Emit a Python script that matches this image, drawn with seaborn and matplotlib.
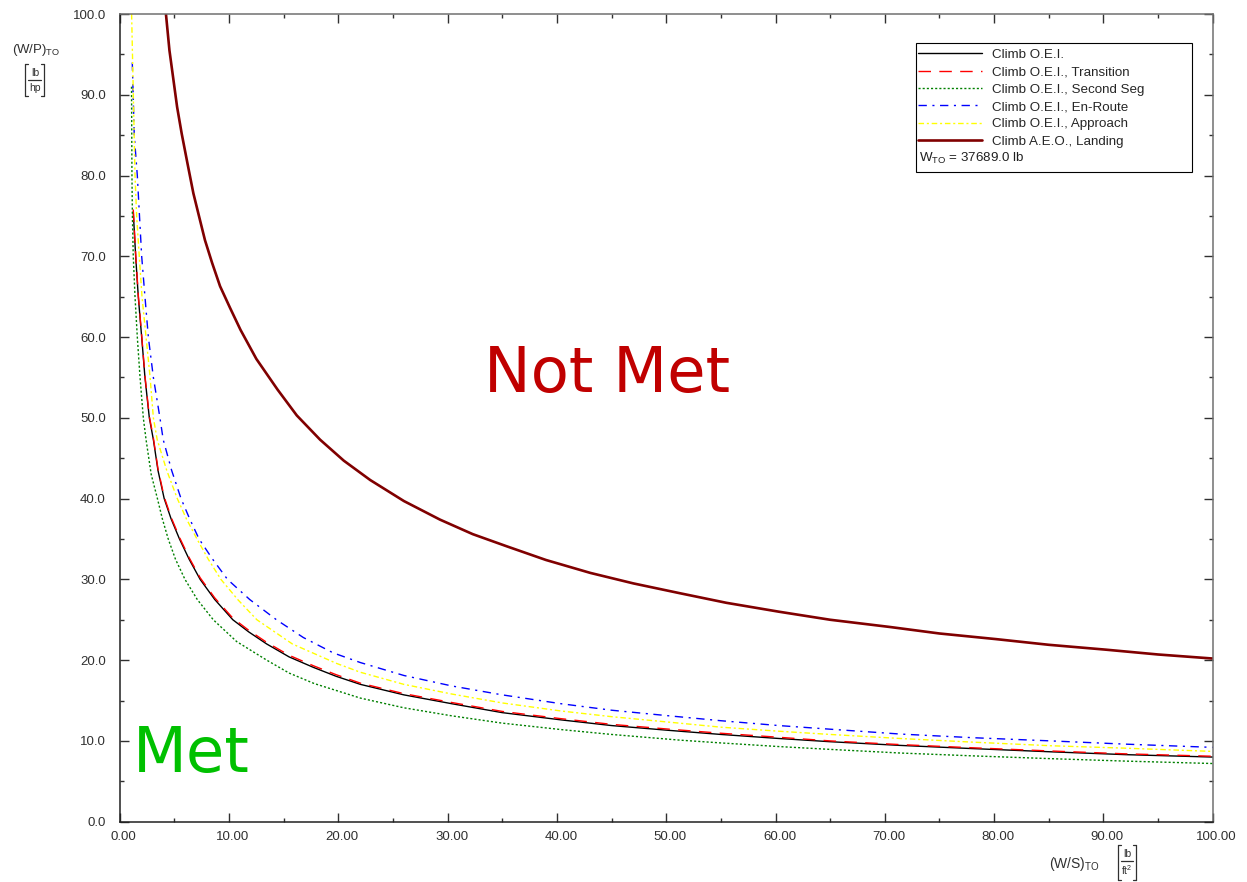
import matplotlib
matplotlib.use('Agg')
import matplotlib.pyplot as plt
import matplotlib.transforms as mtransforms
from matplotlib.lines import Line2D
from matplotlib.patches import Rectangle
from matplotlib.ticker import MultipleLocator, FormatStrFormatter
import seaborn as sns

# Climb O.E.I.
oei_x = [1.24, 1.46, 1.70, 2.01, 2.31, 2.71, 3.08, 3.5, 4.07, 4.7, 5.47, 6.35, 7.36, 8.7, 10.35, 11.8,
         13.45, 15.5, 17.73, 19.8, 22.02, 26, 30.4, 35, 40.4, 45, 50.3, 55, 60.3, 65, 71.3, 78, 85.2, 92, 100]
oei_y = [75.5, 70, 65, 60, 55, 50, 47.3, 43.5, 40, 37.5, 35, 32.5, 30, 27.5, 25, 23.5,
         22.0, 20.4, 19.1, 18.0, 17.0, 15.7, 14.6, 13.5, 12.6, 11.9, 11.3, 10.8, 10.3, 9.9, 9.45, 9.05, 8.65, 8.3, 8.0]
# Climb O.E.I., Transition
trans_x = [1.24, 1.46, 1.70, 2.01, 2.31, 2.71, 3.08, 3.5, 4.07, 4.7, 5.47, 6.35, 7.36, 8.7, 10.35, 11.8,
           13.45, 15.5, 17.73, 19.8, 22.02, 26, 30.4, 35, 40.4, 45, 50.3, 55, 60.3, 65, 71.3, 78, 85.2, 92, 100]
trans_y = [75.8, 70.3, 65.2, 60.2, 55.2, 50.2, 47.5, 43.7, 40.2, 37.7, 35.2, 32.7, 30.2, 27.7, 25.2, 23.7,
           22.2, 20.6, 19.3, 18.2, 17.15, 15.85, 14.75, 13.65, 12.75, 12.05, 11.45, 10.95, 10.45, 10.0, 9.55, 9.15, 8.75, 8.4, 8.1]
# Climb O.E.I., Second Seg
seg_x = [1.08, 1.12, 1.16, 1.24, 1.40, 1.61, 1.86, 2.16, 2.41, 2.88, 3.45, 3.9, 4.44, 5.1, 5.97, 7.1, 8.56,
         10.7, 13.45, 15.5, 17.8, 22.02, 26, 30.4, 35, 40.4, 45, 51.2, 55, 60.3, 65, 71.4, 78, 85.2, 92, 100]
seg_y = [91, 80, 75, 70, 65, 60, 55, 50, 47.3, 43, 40, 37.5, 35, 32.5, 30, 27.5, 25,
         22.3, 20, 18.4, 17.1, 15.3, 14.1, 13.1, 12.2, 11.4, 10.8, 10.1, 9.75, 9.3, 8.95, 8.5, 8.15, 7.8, 7.5, 7.2]
# Climb O.E.I., En-Route
route_x = [1.15, 1.33, 1.61, 1.81, 2.01, 2.31, 2.62, 3.08, 3.68, 3.98, 4.75, 5.61, 6.4, 7.26, 8.5, 9.86, 11.9,
           14.34, 16.8, 19.53, 22.02, 26, 30.4, 35, 40.4, 45, 50.3, 55, 60.3, 65, 71.4, 78, 85.2, 92, 100]
route_y = [94, 85, 80, 75, 70, 65, 60, 55, 50, 47.3, 43.5, 40, 37.5, 35, 32.5, 30, 27.5,
           25, 22.8, 20.9, 19.7, 18.1, 16.8, 15.7, 14.6, 13.8, 13.1, 12.5, 11.9, 11.45, 10.85, 10.4, 10.0, 9.6, 9.2]
# Climb O.E.I., Approach
appr_x = [1.09, 1.40, 1.55, 1.79, 2.04, 2.41, 2.78, 3.08, 3.43, 4.3, 5.27, 6.1, 7.07, 8.1, 9.26, 10.8, 12.55,
          15.8, 19.83, 22.02, 26, 30.4, 35, 40.4, 45, 51.2, 55, 60.3, 65, 71.4, 78, 85.2, 92, 100]
appr_y = [100, 80, 75, 70, 65, 60, 55, 50, 47.3, 43.5, 40, 37.5, 35, 32.5, 30, 27.5, 25,
          22.0, 19.6, 18.5, 17.0, 15.8, 14.7, 13.7, 13.0, 12.2, 11.7, 11.2, 10.8, 10.3, 9.85, 9.4, 9.1, 8.7]
# Climb A.E.O., Landing
land_x = [4.23, 4.55, 4.9, 5.25, 5.67, 6.2, 6.74, 7.25, 7.80, 8.45, 9.18, 10.1, 11.05, 12.5, 14.44, 16.2,
          18.33, 20.5, 22.92, 26, 29.3, 32.3, 35.4, 39, 43.06, 47, 51.2, 55.5, 60.3, 65, 70.5, 75, 80.2,
          85, 90.2, 95, 100]
land_y = [100, 95.5, 92, 88.5, 85.2, 81.5, 77.8, 75, 72, 69.2, 66.3, 63.6, 60.9, 57.3, 53.5, 50.3,
          47.3, 44.7, 42.3, 39.7, 37.4, 35.6, 34.1, 32.4, 30.8, 29.5, 28.3, 27.1, 26.0, 25.0, 24.1, 23.3, 22.6,
          21.9, 21.3, 20.7, 20.2]

x_ticks = [0, 10, 20, 30, 40, 50, 60, 70, 80, 90, 100]
y_ticks = [0, 10, 20, 30, 40, 50, 60, 70, 80, 90, 100]

sns.set_style('ticks')
plt.rcParams['font.family'] = ['Liberation Sans', 'DejaVu Sans']
plt.rcParams['mathtext.fontset'] = 'custom'
plt.rcParams['mathtext.rm'] = 'Liberation Sans'
plt.rcParams['mathtext.it'] = 'Liberation Sans'

W, H = 1247, 882
fig = plt.figure(figsize=(W / 100, H / 100), dpi=100)
ax = fig.add_axes([0.0960, 0.0684, 0.8765, 0.9157])

sns.lineplot(x=oei_x, y=oei_y, ax=ax, color='black', lw=1.0, label='Climb O.E.I.')
sns.lineplot(x=trans_x, y=trans_y, ax=ax, color='#ff0000', lw=1.0,
             linestyle=(0, (9, 6)), label='Climb O.E.I., Transition')
sns.lineplot(x=seg_x, y=seg_y, ax=ax, color='#008000', lw=1.0,
             linestyle=(0, (1.5, 1.5)), label='Climb O.E.I., Second Seg')
sns.lineplot(x=route_x, y=route_y, ax=ax, color='#0000ff', lw=1.0,
             linestyle=(0, (6, 4, 1.5, 4)), label='Climb O.E.I., En-Route')
sns.lineplot(x=appr_x, y=appr_y, ax=ax, color='#ffff00', lw=1.0,
             linestyle=(0, (4, 2, 1.5, 2)), label='Climb O.E.I., Approach')
sns.lineplot(x=land_x, y=land_y, ax=ax, color='#800000', lw=1.9,
             label='Climb A.E.O., Landing')

ax.set_xlim(0, 100)
ax.set_ylim(0, 100)
ax.set_xticks(x_ticks)
ax.set_yticks(y_ticks)
ax.xaxis.set_minor_locator(MultipleLocator(5))
ax.yaxis.set_minor_locator(MultipleLocator(5))
ax.xaxis.set_major_formatter(FormatStrFormatter('%.2f'))
ax.yaxis.set_major_formatter(FormatStrFormatter('%.1f'))
ax.tick_params(which='both', direction='in', top=True, right=True,
               labelsize=9.5, labelcolor='#303030', color='#303030')
ax.tick_params(which='major', length=6.5, width=1.0)
ax.tick_params(which='minor', length=3, width=1.0)
ax.tick_params(axis='y', pad=10)
ax.tick_params(axis='x', pad=7)
shift = mtransforms.ScaledTranslation(4 / 100, 0, fig.dpi_scale_trans)
for lab in ax.get_xticklabels():
    lab.set_transform(lab.get_transform() + shift)
for side in ['left', 'bottom']:
    ax.spines[side].set_color('#202020')
for side in ['top', 'right']:
    ax.spines[side].set_color('#707070')
for sp in ax.spines.values():
    sp.set_linewidth(1.1)
ax.set_xlabel('')
ax.set_ylabel('')

# legend with its own box and the weight line
ax.legend(loc='upper left', bbox_to_anchor=(0.7295, 0.959), frameon=False,
          fontsize=9.6, handlelength=4.8, handletextpad=0.75, labelspacing=0.38,
          borderpad=0.1, borderaxespad=0)
ax.add_patch(Rectangle((0.7285, 0.804), 0.2525, 0.160, transform=ax.transAxes,
                       fill=False, ec='black', lw=0.8, zorder=5))
ax.text(0.7315, 0.821, r'W$_{\mathrm{TO}}$ = 37689.0 lb', transform=ax.transAxes,
        fontsize=9.6, va='center', ha='left', color='#202020')

# region labels
ax.text(44.6, 53.2, 'Not Met', fontsize=45, color='#c00000', ha='center',
        va='baseline', family='DejaVu Sans')
ax.text(1.25, 6.2, 'Met', fontsize=45, color='#00c000', ha='left',
        va='baseline', family='DejaVu Sans')


def px(x, y):
    return x / W, 1 - y / H


def unit_frac(cx, top, mid, bottom, num, den, left, right):
    # bracketed unit fraction drawn in figure pixels
    c = '#303030'
    fig.text(*px(cx, (top + mid) / 2 + 1), num, fontsize=7.5, color=c, ha='center', va='center')
    fig.text(*px(cx, (mid + bottom) / 2), den, fontsize=7.5, color=c, ha='center', va='center')
    segs = [((left + 3, mid), (right - 3, mid)),
            ((left, top), (left, bottom)), ((left, top), (left + 3, top)), ((left, bottom), (left + 3, bottom)),
            ((right, top), (right, bottom)), ((right, top), (right - 3, top)), ((right, bottom), (right - 3, bottom))]
    for a, b in segs:
        (x0, y0), (x1, y1) = px(*a), px(*b)
        fig.add_artist(Line2D([x0, x1], [y0, y1], color=c, lw=0.9))


# axis titles
fig.text(*px(12, 50), r'(W/P)$_{\mathrm{TO}}$', fontsize=9.5, color='#303030',
         ha='left', va='center')
unit_frac(35, 64, 80, 96, 'lb', 'hp', 25, 44)
fig.text(*px(1049, 864), r'(W/S)$_{\mathrm{TO}}$', fontsize=10, color='#303030',
         ha='left', va='center')
unit_frac(1127, 845, 861, 880, 'lb', r'ft$^{\mathrm{2}}$', 1118, 1136)

plt.savefig('out.png', dpi=100)
